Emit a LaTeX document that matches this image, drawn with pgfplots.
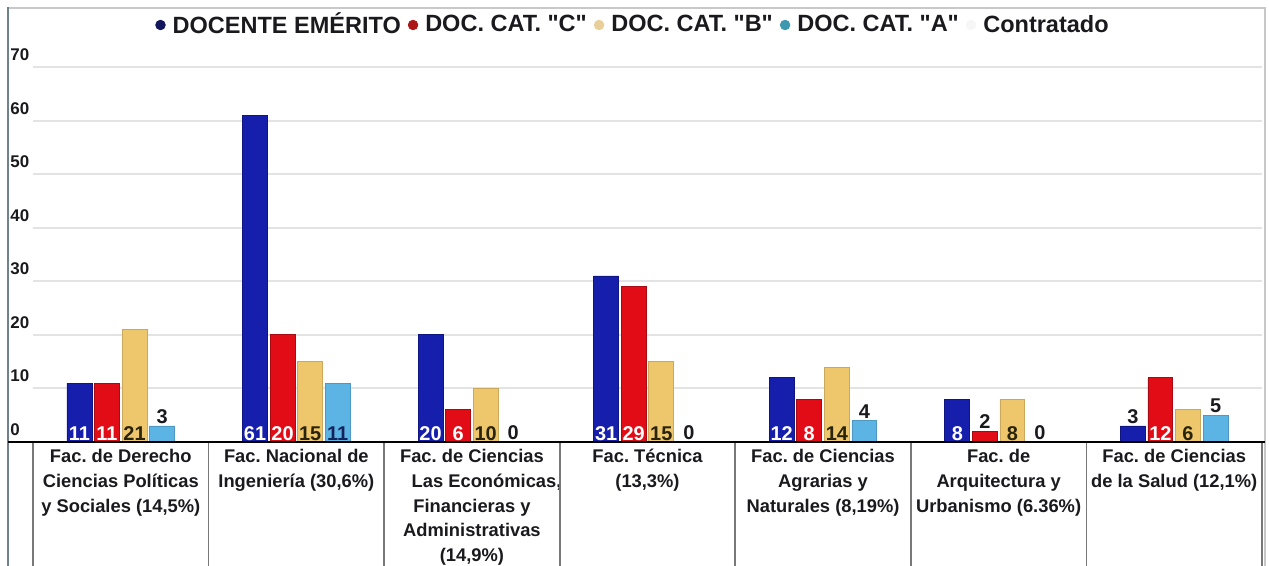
\documentclass[border=0pt]{standalone}
\usepackage{fontspec}
\setmainfont{Liberation Sans}[Ligatures=TeXOff]
\usepackage{pgfplots}
\pgfplotsset{compat=1.18}

\definecolor{cblue}{RGB}{22,30,172}
\definecolor{cred}{RGB}{226,12,22}
\definecolor{cyel}{RGB}{238,198,108}
\definecolor{ccya}{RGB}{92,180,228}
\definecolor{lnavy}{RGB}{18,22,92}
\definecolor{lred}{RGB}{172,22,22}
\definecolor{ltan}{RGB}{232,206,152}
\definecolor{lteal}{RGB}{62,152,176}
\definecolor{lwhite}{RGB}{246,246,246}
\definecolor{txtdark}{RGB}{25,25,30}
\definecolor{txtyel}{RGB}{40,35,10}
\definecolor{txtnavy}{RGB}{20,35,90}
\definecolor{sepgray}{RGB}{120,120,120}
\definecolor{framegray}{RGB}{200,200,200}
\definecolor{leftframe}{RGB}{110,130,140}

\begin{document}
\frenchspacing
\begin{tikzpicture}
\useasboundingbox (-16.5bp,-62bp) rectangle (618bp,221bp);
\begin{axis}[
    scale only axis,
    width=614.5bp, height=187.5bp,
    xmin=-0.5, xmax=6.5, ymin=0, ymax=70,
    enlargelimits=false,
    clip=false,
    axis line style={draw=none},
    major tick length=0pt,
    ytick={0,10,...,70},
    ymajorgrids,
    grid style={gray!22, line width=1bp},
    /pgf/number format/assume math mode=true,
    yticklabel style={anchor=south west, inner sep=0pt, xshift=-11.5bp, yshift=3bp,
        font=\fontsize{8.5}{10}\selectfont\bfseries, text=txtdark},
    xtick={0,...,6},
    xticklabels={
        {Fac. de Derecho\\Ciencias Políticas\\y Sociales (14,5\%)},
        {Fac. Nacional de\\Ingeniería (30,6\%)},
        {Fac. de Ciencias\\\hspace*{1.6em}Las Económicas,\\Financieras y\\Administrativas\\(14,9\%)},
        {Fac. Técnica\\(13,3\%)},
        {Fac. de Ciencias\\Agrarias y\\Naturales (8,19\%)},
        {Fac. de\\Arquitectura y\\Urbanismo (6.36\%)},
        {Fac. de Ciencias\\de la Salud (12,1\%)}},
    xticklabel style={anchor=north, inner sep=0pt, yshift=-3.5bp, align=center,
        font=\fontsize{9.2}{12.4}\selectfont\bfseries, text=txtdark},
    legend columns=-1,
    legend style={draw=none, fill=none, at={(axis description cs:0.4874,1.112)}, anchor=center,
        font=\fontsize{11.8}{14}\selectfont\bfseries, text=txtdark,
        inner sep=0pt, nodes={inner sep=0pt},
        /tikz/every odd column/.append style={column sep=3.5bp},
        /tikz/every even column/.append style={column sep=3.5bp}},
]
% bars
\addplot[ybar, forget plot, bar width=0.142, bar shift=-0.2355, fill=cblue, draw=cblue!75!black, line width=0.4bp]
    coordinates {(0,11) (1,61) (2,20) (3,31) (4,12) (5,8) (6,3)};
\addplot[ybar, forget plot, bar width=0.142, bar shift=-0.0785, fill=cred, draw=cred!75!black, line width=0.4bp]
    coordinates {(0,11) (1,20) (2,6) (3,29) (4,8) (5,2) (6,12)};
\addplot[ybar, forget plot, bar width=0.142, bar shift=0.0785, fill=cyel, draw=cyel!85!black, line width=0.4bp]
    coordinates {(0,21) (1,15) (2,10) (3,15) (4,14) (5,8) (6,6)};
\addplot[ybar, forget plot, bar width=0.142, bar shift=0.2355, fill=ccya, draw=ccya!85!black, line width=0.4bp]
    coordinates {(0,3) (1,11) (4,4) (6,5)};

% value labels inside bars (white)
\addplot[forget plot, draw=none, mark=none, nodes near coords, point meta=explicit symbolic,
    nodes near coords style={anchor=south, inner sep=0.6bp, font=\fontsize{10}{12}\selectfont\bfseries, text=white}]
    coordinates {(-0.2355,0)[11] (0.7645,0)[61] (1.7645,0)[20] (2.7645,0)[31] (3.7645,0)[12] (4.7645,0)[8]
                 (-0.0785,0)[11] (0.9215,0)[20] (1.9215,0)[6] (2.9215,0)[29] (3.9215,0)[8] (5.9215,0)[12]};
% value labels inside yellow bars
\addplot[forget plot, draw=none, mark=none, nodes near coords, point meta=explicit symbolic,
    nodes near coords style={anchor=south, inner sep=0.6bp, font=\fontsize{10}{12}\selectfont\bfseries, text=txtyel}]
    coordinates {(0.0785,0)[21] (1.0785,0)[15] (2.0785,0)[10] (3.0785,0)[15] (4.0785,0)[14] (5.0785,0)[8] (6.0785,0)[6]};
% value label inside cyan bar
\addplot[forget plot, draw=none, mark=none, nodes near coords, point meta=explicit symbolic,
    nodes near coords style={anchor=south, inner sep=0.6bp, font=\fontsize{10}{12}\selectfont\bfseries, text=txtnavy}]
    coordinates {(1.2355,0)[11]};
% value labels above short bars and zeros
\addplot[forget plot, draw=none, mark=none, nodes near coords, point meta=explicit symbolic,
    nodes near coords style={anchor=south, inner sep=1bp, font=\fontsize{10}{12}\selectfont\bfseries, text=txtdark}]
    coordinates {(2.2355,0)[0] (3.2355,0)[0] (5.2355,0)[0] (0.2355,3)[3] (4.2355,4)[4] (6.2355,5)[5]
                 (5.7645,3)[3] (4.9215,2)[2]};

% legend
\addlegendimage{legend image code/.code={\fill[lnavy] (0bp,0bp) circle (2.4bp);}}
\addlegendentry{DOCENTE EMÉRITO}
\addlegendimage{legend image code/.code={\fill[lred] (0bp,0bp) circle (2.4bp);}}
\addlegendentry{DOC. CAT. "C"}
\addlegendimage{legend image code/.code={\fill[ltan] (0bp,0bp) circle (2.4bp);}}
\addlegendentry{DOC. CAT. "B"}
\addlegendimage{legend image code/.code={\fill[lteal] (0bp,0bp) circle (2.4bp);}}
\addlegendentry{DOC. CAT. "A"}
\addlegendimage{legend image code/.code={\fill[lwhite] (0bp,0bp) circle (2.4bp);}}
\addlegendentry{Contratado}
\end{axis}

% frame and table lines
\draw[framegray, line width=1bp] (-12.5bp,217bp) -- (616bp,217bp);
\draw[leftframe, line width=1.2bp] (-12.5bp,217.5bp) -- (-12.5bp,-62bp);
\draw[framegray, line width=1bp] (616bp,217.5bp) -- (616bp,-62bp);
\foreach \k in {0,...,7} {
    \draw[sepgray, line width=0.8bp] (\k*87.786bp,0bp) -- (\k*87.786bp,-62bp);
}
\draw[black, line width=1.1bp] (-12.5bp,0bp) -- (616bp,0bp);
\end{tikzpicture}
\end{document}
